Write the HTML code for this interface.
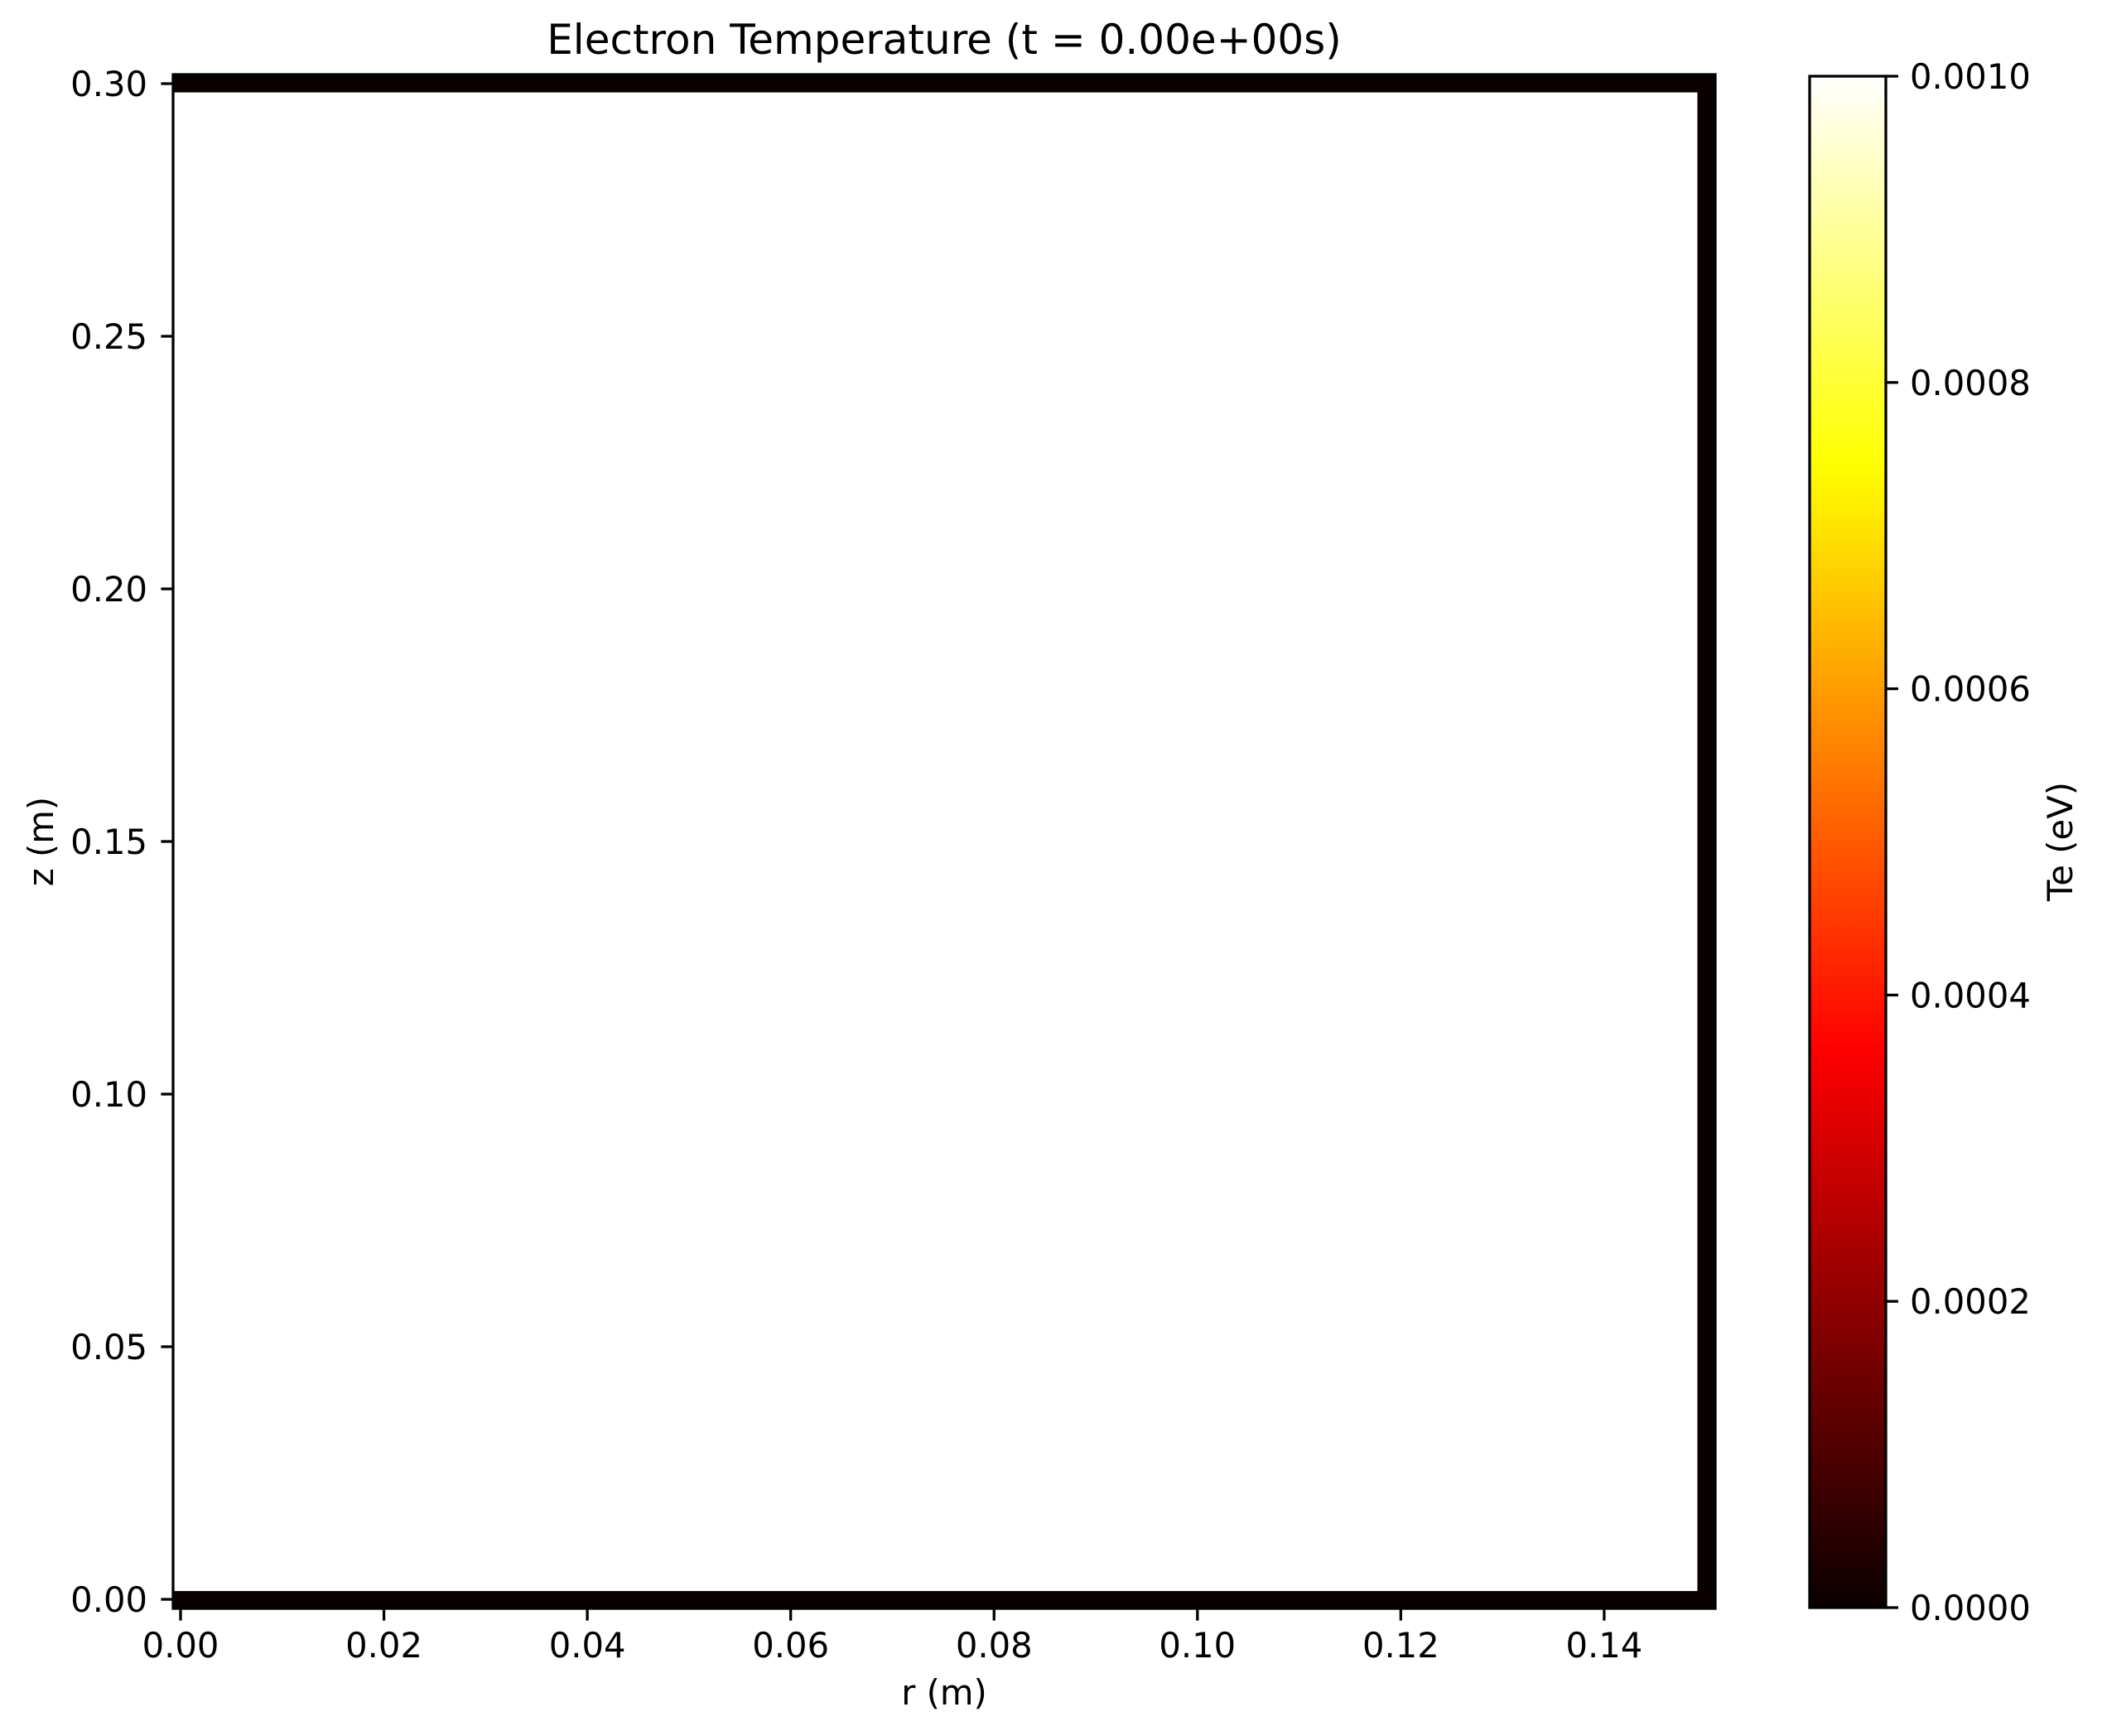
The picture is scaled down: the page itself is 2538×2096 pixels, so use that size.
<!DOCTYPE html>
<html><head><meta charset="utf-8"><style>
html,body{margin:0;padding:0;background:#fff;}
svg{display:block;font-family:"DejaVu Sans","Liberation Sans",sans-serif;}
</style></head><body>
<svg id="chart" width="2538" height="2096" viewBox="0 0 2538 2096" xmlns="http://www.w3.org/2000/svg">
<defs>
<linearGradient id="hot" x1="0" y1="1" x2="0" y2="0">
<stop offset="0" stop-color="rgb(10,0,0)"/>
<stop offset="0.365" stop-color="rgb(255,0,0)"/>
<stop offset="0.746" stop-color="rgb(255,255,0)"/>
<stop offset="1" stop-color="rgb(255,255,255)"/>
</linearGradient>
</defs>
<rect x="0" y="0" width="2538" height="2096" fill="#fff"/>
<g id="cells"></g>
<g id="axes"></g>
<text x="1140" y="65" font-size="50" text-anchor="middle">Electron Temperature (t = 0.00e+00s)</text>
<text x="1140" y="2058" font-size="41.7" text-anchor="middle">r (m)</text>
<text x="0" y="0" font-size="41.7" text-anchor="middle" transform="translate(64,1016) rotate(-90)">z (m)</text>
<rect x="2185" y="92" width="92" height="1849" fill="url(#hot)" stroke="#000" stroke-width="3.3"/>
<g id="cbticks"></g>
<text x="0" y="0" font-size="41.7" text-anchor="middle" transform="translate(2502,1016) rotate(-90)">Te (eV)</text>
</svg>
<script>
// ---- data ----
const nR = 91;            // radial grid nodes
const nZ = 92;            // axial grid nodes
const rMax = 0.15;
const zMax = 0.30;
const wallTe = 0.0;       // Te on the walls (z=0, z=zMax, r=rMax)
const interiorTe = null;  // interior is masked (no value)
const xTicks = [0.00, 0.02, 0.04, 0.06, 0.08, 0.10, 0.12, 0.14];
const xTickLabels = ["0.00","0.02","0.04","0.06","0.08","0.10","0.12","0.14"];
const yTicks = [0.00, 0.05, 0.10, 0.15, 0.20, 0.25, 0.30];
const yTickLabels = ["0.00","0.05","0.10","0.15","0.20","0.25","0.30"];
const cbTicks = [0.0000, 0.0002, 0.0004, 0.0006, 0.0008, 0.0010];
const cbTickLabels = ["0.0000","0.0002","0.0004","0.0006","0.0008","0.0010"];
const vMin = 0, vMax = 0.001;

// ---- scales ----
const AX = {left:209, right:2071, top:90, bottom:1942};
function xs(v){ return 218 + v * 12278; }
function ys(v){ return 1931 - v * 6100; }
function cs(v){ return 1941 - (v - vMin) / (vMax - vMin) * 1849; }
function hot(t){
  t = Math.max(0, Math.min(1, t));
  const r = Math.min(1, 0.0416 + t / 0.365 * 0.9584);
  const g = Math.max(0, Math.min(1, (t - 0.365) / 0.381));
  const b = Math.max(0, Math.min(1, (t - 0.746) / 0.254));
  return `rgb(${Math.round(r*255)},${Math.round(g*255)},${Math.round(b*255)})`;
}
const NS = "http://www.w3.org/2000/svg";
const rNodes = Array.from({length:nR}, (_, i) => i * rMax / (nR - 1));
const zNodes = Array.from({length:nZ}, (_, j) => j * zMax / (nZ - 1));
const te = zNodes.map((z, j) => rNodes.map((r, i) =>
  (j === 0 || j === nZ - 1 || i === nR - 1) ? wallTe : interiorTe));

// ---- cells ----
const cells = document.getElementById('cells');
const dr = rMax / (nR - 1), dz = zMax / (nZ - 1);
for (let j = 0; j < nZ; j++) {
  for (let i = 0; i < nR; i++) {
    const v = te[j][i];
    if (v === null) continue;
    const x0 = xs(rNodes[i] - dr/2), x1 = xs(rNodes[i] + dr/2);
    const y0 = ys(zNodes[j] + dz/2), y1 = ys(zNodes[j] - dz/2);
    const rc = document.createElementNS(NS, 'rect');
    rc.setAttribute('x', Math.max(AX.left, x0));
    rc.setAttribute('y', Math.max(AX.top, y0));
    rc.setAttribute('width', Math.min(AX.right, x1) - Math.max(AX.left, x0) + 0.5);
    rc.setAttribute('height', Math.min(AX.bottom, y1) - Math.max(AX.top, y0) + 0.5);
    rc.setAttribute('fill', hot((v - vMin) / (vMax - vMin)));
    
    
    cells.appendChild(rc);
  }
}

// ---- axes ----
const axes = document.getElementById('axes');
function line(x1,y1,x2,y2,name,parent){
  const l = document.createElementNS(NS,'line');
  l.setAttribute('x1',x1); l.setAttribute('y1',y1);
  l.setAttribute('x2',x2); l.setAttribute('y2',y2);
  l.setAttribute('stroke','#000'); l.setAttribute('stroke-width','3.3');
  
  
  parent.appendChild(l);
}
function text(x,y,s,anchor,name,parent){
  const t = document.createElementNS(NS,'text');
  t.setAttribute('x',x); t.setAttribute('y',y);
  t.setAttribute('font-size','41.7'); t.setAttribute('text-anchor',anchor);
  t.textContent = s;
  
  
  parent.appendChild(t);
}
const frame = document.createElementNS(NS,'rect');
frame.setAttribute('x',AX.left); frame.setAttribute('y',AX.top);
frame.setAttribute('width',AX.right-AX.left); frame.setAttribute('height',AX.bottom-AX.top);
frame.setAttribute('fill','none'); frame.setAttribute('stroke','#000'); frame.setAttribute('stroke-width','3.3');


axes.appendChild(frame);
xTicks.forEach((v,k)=>{
  const x = xs(v);
  line(x, AX.bottom, x, AX.bottom + 14.6, 'x-tick', axes);
  text(x, 2001, xTickLabels[k], 'middle', 'x-tick-label', axes);
});
yTicks.forEach((v,k)=>{
  const y = ys(v);
  line(AX.left - 14.6, y, AX.left, y, 'y-tick', axes);
  text(178, y + 15, yTickLabels[k], 'end', 'y-tick-label', axes);
});
const cb = document.getElementById('cbticks');
cbTicks.forEach((v,k)=>{
  const y = cs(v);
  line(2277, y, 2292, y, 'colorbar-tick', cb);
  text(2306, y + 15, cbTickLabels[k], 'start', 'colorbar-tick-label', cb);
});
</script>
</body></html>
